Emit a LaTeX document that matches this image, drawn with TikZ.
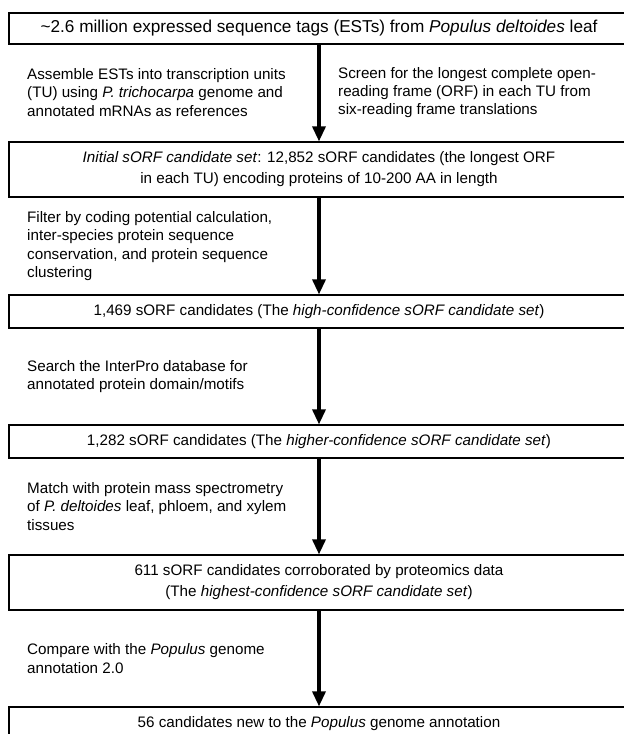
\documentclass[tikz,border=0pt]{standalone}
\usepackage{fontspec}
\setmainfont{Liberation Sans}
\usepackage{tikz}
\usetikzlibrary{positioning, arrows.meta}

\begin{document}
\begin{tikzpicture}[
        x=1pt, y=-1pt,
        b/.style={rectangle, draw, line width=1.2pt, fill=white, align=center,
            minimum width=620pt, inner sep=2pt, font=\fontsize{15.2}{21}\selectfont},
        lbl/.style={anchor=west, align=left, inner sep=0pt, font=\fontsize{15.2}{18.4}\selectfont},
        arr/.style={-{Triangle[width=13pt, length=15pt]}, line width=3.3pt}
    ]
    \useasboundingbox (0,0) rectangle (624,734);
    \node[b, minimum height=31pt, font=\fontsize{17.2}{21}\selectfont] (ests) at (319,28.5) {\textasciitilde2.6 million expressed sequence tags (ESTs) from \emph{Populus deltoides} leaf};
    \node[b, minimum height=55pt] (initial) at (319,169.5) {\emph{Initial sORF candidate set}: 12,852 sORF candidates (the longest ORF\\in each TU) encoding proteins of 10-200 AA in length};
    \node[b, minimum height=33pt] (high) at (319,311.5) {1,469 sORF candidates (The \emph{high-confidence sORF candidate set})};
    \node[b, minimum height=33pt] (higher) at (319,441.5) {1,282 sORF candidates (The \emph{higher-confidence sORF candidate set})};
    \node[b, minimum height=55pt] (highest) at (319,582.5) {611 sORF candidates corroborated by proteomics data\\(The \emph{highest-confidence sORF candidate set})};
    \node[b, minimum height=33pt] (new) at (319,723.5) {56 candidates new to the \emph{Populus} genome annotation};
    % arrows between the steps
    \draw[arr] (ests) -- (initial);
    \draw[arr] (initial) -- (high);
    \draw[arr] (high) -- (higher);
    \draw[arr] (higher) -- (highest);
    \draw[arr] (highest) -- (new);
    % step labels
    \node[lbl] (assemble) at (27,92.5) {Assemble ESTs into transcription units\\(TU) using \emph{P. trichocarpa} genome and\\annotated mRNAs as references};
    \node[lbl] (screen) at (338,92.5) {Screen for the longest complete open-\\reading frame (ORF) in each TU from\\six-reading frame translations};
    \node[lbl] (filter) at (27,246) {Filter by coding potential calculation,\\inter-species protein sequence\\conservation, and protein sequence\\clustering};
    \node[lbl] (search) at (27,376.5) {Search the InterPro database for\\annotated protein domain/motifs};
    \node[lbl] (match) at (27,506.5) {Match with protein mass spectrometry\\of \emph{P. deltoides} leaf, phloem, and xylem\\tissues};
    \node[lbl] (compare) at (27,658.5) {Compare with the \emph{Populus} genome\\annotation 2.0};
\end{tikzpicture}
\end{document}
